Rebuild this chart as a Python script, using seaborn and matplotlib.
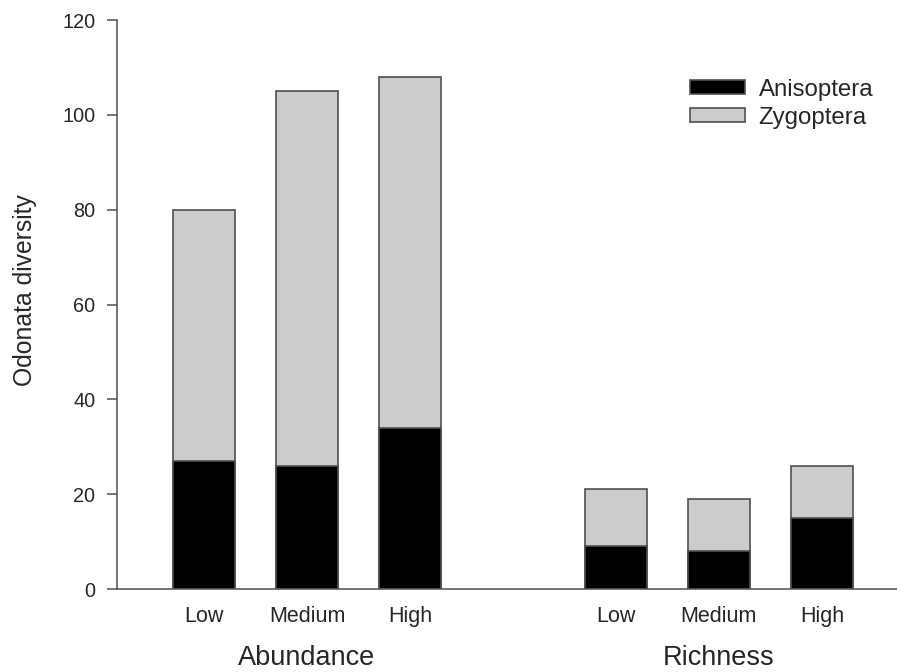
import seaborn as sns
import matplotlib.pyplot as plt

# data
groups = ['Abundance', 'Richness']
levels = ['Low', 'Medium', 'High']
positions = [0, 1, 2, 4, 5, 6]
anisoptera = [27, 26, 34, 9, 8, 15]
zygoptera = [53, 79, 74, 12, 11, 11]
totals = [a + z for a, z in zip(anisoptera, zygoptera)]

sns.set_style('ticks')
plt.rcParams['font.family'] = ['Liberation Sans', 'DejaVu Sans']

fig = plt.figure(figsize=(8.97, 6.72), dpi=100)
ax = fig.add_axes([0.1304, 0.1235, 0.8696, 0.8467])

edge = '#505050'
# stacked bars: full height in grey, Anisoptera part in black on top of it
sns.barplot(x=positions, y=totals, native_scale=True, width=0.6,
            color='#cccccc', edgecolor=edge, linewidth=1.2, saturation=1,
            label='Zygoptera', ax=ax)
sns.barplot(x=positions, y=anisoptera, native_scale=True, width=0.6,
            color='black', edgecolor=edge, linewidth=1.2, saturation=1,
            label='Anisoptera', ax=ax)

ax.set_xlim(-0.845, 6.73)
ax.set_ylim(0, 120)
ax.set_yticks(range(0, 121, 20))
ax.set_xticks(positions)
ax.set_xticklabels(levels * 2)
ax.tick_params(axis='y', labelsize=14.3, length=7.2, width=1.1, color=edge, pad=8.5)
ax.tick_params(axis='x', labelsize=15.5, length=0, pad=12)
ax.set_xlabel('')
ax.set_ylabel('Odonata diversity', fontsize=17.8)
ax.yaxis.set_label_coords(-0.1026, 0.5255)

for s in ['top', 'right']:
    ax.spines[s].set_visible(False)
for s in ['left', 'bottom']:
    ax.spines[s].set_color(edge)
    ax.spines[s].set_linewidth(1.1)

# group labels under the tick labels
for g, x in zip(groups, [1, 5]):
    ax.text(x, -0.1336, g, transform=ax.get_xaxis_transform(),
            ha='center', va='baseline', fontsize=19.5)

h, l = ax.get_legend_handles_labels()
ax.legend([h[1], h[0]], [l[1], l[0]], loc='upper left',
          bbox_to_anchor=(0.7346, 0.8972), frameon=False, fontsize=17.3,
          handlelength=2.3, handleheight=0.5, handletextpad=0.55,
          labelspacing=0.25, borderpad=0, borderaxespad=0)

fig.savefig('out.png', dpi=100)
